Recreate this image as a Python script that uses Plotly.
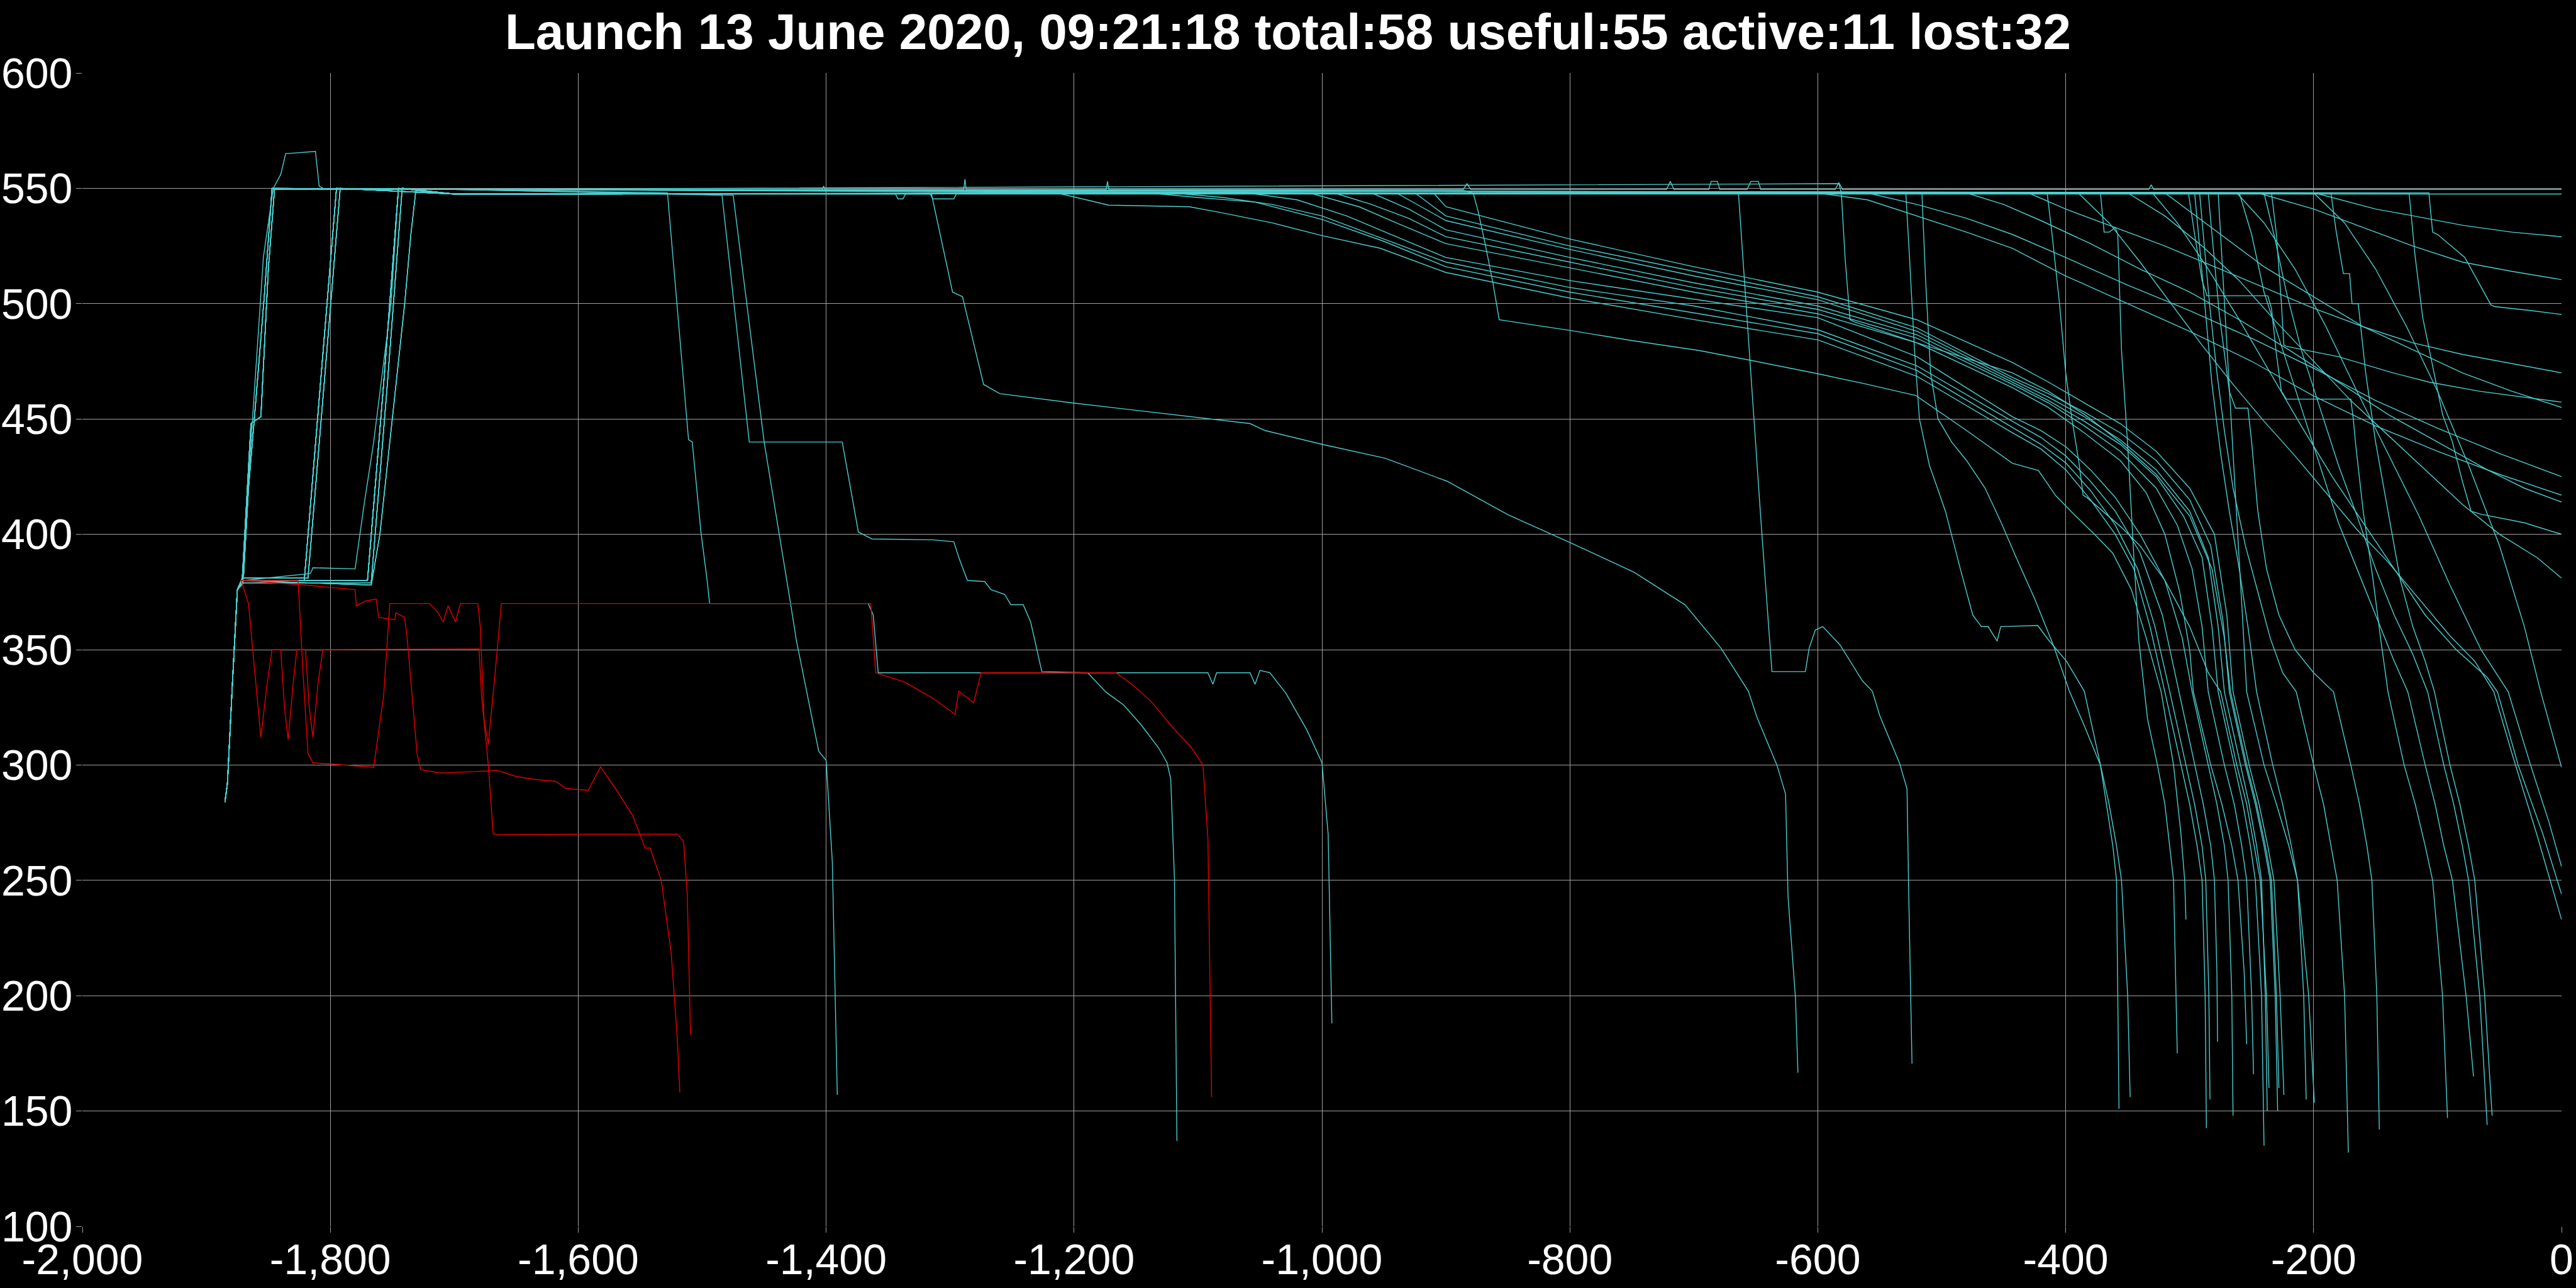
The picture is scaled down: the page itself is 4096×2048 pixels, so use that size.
import plotly.graph_objects as go

# ---------------- text / ticks ----------------
TITLE = "Launch 13 June 2020, 09:21:18 total:58 useful:55 active:11 lost:32"
X_TICKS = [-2000, -1800, -1600, -1400, -1200, -1000, -800, -600, -400, -200, 0]
X_TICK_LABELS = ["-2,000", "-1,800", "-1,600", "-1,400", "-1,200", "-1,000", "-800", "-600", "-400", "-200", "0"]
Y_TICKS = [100, 150, 200, 250, 300, 350, 400, 450, 500, 550, 600]
Y_TICK_LABELS = ["100", "150", "200", "250", "300", "350", "400", "450", "500", "550", "600"]

# ---------------- launch / climb phase (time, value) ----------------
START = [(-1885, 284), (-1883, 292), (-1879, 335), (-1875, 376)]
CLIMB_G1A = [(-1871, 381), (-1864, 448), (-1856, 451), (-1850, 515), (-1845, 549.5)]
CLIMB_G1B = [(-1870, 382), (-1866, 420), (-1861, 452), (-1853, 505), (-1847, 550)]
CLIMB_G1C = [(-1871, 381), (-1864, 440), (-1854, 520), (-1846, 550), (-1840, 556), (-1836, 565),
             (-1812, 566), (-1809, 551), (-1806, 550)]
CLIMB_G2 = [(-1870, 380), (-1821, 380), (-1808, 465), (-1795, 550)]
CLIMB_G2V = [(-1870, 381), (-1818, 381), (-1805, 465), (-1792, 550)]
CLIMB_G2B = [(-1870, 380), (-1816, 383), (-1814, 385.5), (-1780, 385), (-1773, 412), (-1765, 440),
             (-1758, 470), (-1751, 500), (-1745, 550)]
CLIMB_G3 = [(-1870, 380), (-1770, 380), (-1757, 465), (-1745, 550)]
CLIMB_G3V = [(-1870, 379), (-1767, 379), (-1754, 465), (-1742, 550)]
CLIMB_G3B = [(-1870, 380), (-1767, 378), (-1760, 400), (-1752, 440), (-1745, 475), (-1740, 500),
             (-1735, 530), (-1731, 549)]
LEVEL_BREAK_X = -1700

# ---------------- cyan tracks: (climb group, cruise level, later points) ----------------
CYAN_EARLY = [
    ("G1A", 549.5, [(-1528, 548), (-1520, 497), (-1511, 441), (-1508, 440), (-1501, 401), (-1496, 380),
                    (-1494, 370), (-1366, 370), (-1362, 365), (-1358, 340), (-1092, 340), (-1088, 335),
                    (-1085, 340), (-1058, 340), (-1054, 335), (-1050, 341), (-1042, 340), (-1029, 331),
                    (-1012, 315), (-1000, 301), (-995, 270), (-992, 188)]),
    ("G1C", 549.5, [(-1484, 547), (-1469, 473), (-1462, 440), (-1387, 440), (-1374, 401), (-1363, 398),
                    (-1314, 397.6), (-1297, 396.8), (-1293, 390), (-1286, 380), (-1272, 379.5),
                    (-1267, 376), (-1256, 374), (-1251, 369.5), (-1241, 369.5), (-1235, 362),
                    (-1230, 350.5), (-1226, 340.5), (-1189, 340), (-1174, 331.5), (-1160, 326),
                    (-1146, 317.5), (-1132, 307.6), (-1125, 301), (-1122, 294), (-1119, 251), (-1117, 137)]),
    ("G1B", 549.5, [(-1475, 547), (-1450, 440), (-1429, 371), (-1424, 354), (-1406, 306), (-1400, 302),
                    (-1395, 258), (-1391, 157)]),
    ("G2", 547.5, [(-1315, 547.5), (-1298, 505), (-1290, 503), (-1273, 465), (-1260, 461), (-1202, 457),
                   (-1138, 453), (-1058, 448), (-1046, 445), (-1000, 439), (-949, 433), (-899, 423),
                   (-850, 408.5), (-798, 396), (-748, 383.5), (-707, 369.4), (-678, 350.6), (-656, 332),
                   (-649, 320.6), (-633, 300), (-626, 287.4), (-624, 243), (-618, 199), (-616, 166.6)]),
    ("G3", 547.5, [(-664, 547.8), (-658, 501), (-646, 407), (-637, 340.5), (-610, 340.5), (-607, 350.6),
                   (-602, 358.5), (-596, 360), (-582, 352), (-564, 336.5), (-556, 332), (-550, 321.4),
                   (-534, 300.7), (-528, 289.6), (-526.6, 243), (-524, 170.6)]),
]

CYAN_BUNDLE = [
    ("G2V", 547.5, [(-1214, 548), (-1190, 545), (-1172, 542.7), (-1107, 542), (-1084, 539.7), (-1040, 535),
                    (-1000, 529.5), (-953, 524), (-900, 513.5), (-800, 502.4), (-700, 493.1), (-600, 484.3),
                    (-520, 468.5), (-443, 444), (-420, 437), (-400, 428), (-380, 415), (-360, 400),
                    (-345, 385), (-332, 360), (-320, 331.7), (-307, 300), (-300, 283), (-294, 265),
                    (-290, 250), (-287.5, 200), (-286.5, 142.5)]),
    ("G3", 547.5, [(-1140, 548), (-1100, 546), (-1054, 544), (-1000, 536.5), (-950, 527), (-900, 516),
                   (-800, 505), (-700, 496), (-600, 487), (-520, 471), (-443, 446.4), (-420, 439),
                   (-400, 431), (-380, 419), (-360, 404), (-342, 385), (-328, 360), (-316, 331.7),
                   (-303, 300), (-296, 283), (-290, 265), (-287, 250), (-284.5, 200), (-283.6, 155)]),
    ("G1A", 549.5, [(-1120, 548), (-1080, 546), (-1040, 543), (-1000, 538), (-950, 528), (-900, 518),
                    (-800, 507), (-700, 499), (-600, 488.7), (-520, 473), (-443, 449), (-420, 442),
                    (-400, 434), (-380, 423), (-360, 410), (-340, 392), (-322, 365), (-308.6, 331.7),
                    (-296, 300), (-289, 283), (-283, 265), (-280, 250), (-278, 210), (-277.5, 180)]),
    ("G3V", 547.5, [(-1060, 548), (-1020, 545), (-980, 538), (-940, 529), (-900, 520), (-800, 510),
                    (-700, 502), (-600, 493.9), (-520, 477), (-443, 451), (-420, 445), (-400, 438),
                    (-380, 428), (-360, 416), (-340, 400), (-320, 380), (-306, 355), (-298, 331.7),
                    (-285, 300), (-278, 283), (-272, 265), (-269, 250), (-266, 200), (-265, 148)]),
    ("G2", 547.5, [(-1010, 548), (-970, 542), (-940, 535), (-900, 526), (-800, 515.5), (-700, 505),
                   (-600, 495.6), (-520, 483), (-443, 463.6), (-414, 455), (-385, 444), (-356, 432),
                   (-335, 418), (-320, 400), (-308, 375), (-300, 350), (-297, 331.7), (-283, 300),
                   (-274, 283), (-266, 265), (-261, 250), (-256, 210), (-254, 179)]),
    ("G1B", 549.5, [(-990, 548), (-960, 543), (-930, 537), (-900, 529), (-800, 518), (-700, 507),
                    (-600, 497.5), (-520, 485), (-443, 465), (-414, 457), (-385, 447), (-356, 436),
                    (-327, 420), (-310, 404), (-298, 385), (-290, 360), (-285, 331.7), (-272, 300),
                    (-264, 283), (-258, 265), (-254, 250), (-250, 200), (-248.5, 166)]),
    ("G3", 547.5, [(-960, 548), (-930, 541), (-900, 532), (-800, 520), (-700, 509), (-600, 499),
                   (-520, 486.5), (-443, 466), (-414, 458), (-385, 449), (-356, 439), (-327, 425),
                   (-305, 408), (-290, 390), (-282, 360), (-277, 331.7), (-264, 300), (-257, 283),
                   (-251, 265), (-247, 250), (-242, 200), (-240, 135)]),
    ("G2V", 547.5, [(-940, 548), (-920, 542), (-900, 536), (-800, 523.5), (-700, 512), (-600, 501.7),
                    (-520, 488), (-443, 467), (-414, 459.5), (-385, 451), (-356, 441), (-327, 428),
                    (-300, 410), (-285, 390), (-277, 360), (-272, 331.7), (-259, 300), (-252, 283),
                    (-246, 265), (-242, 250), (-239, 200), (-237.4, 150)]),
    ("G3B", 547.5, [(-925, 548), (-910, 542), (-900, 538), (-800, 525), (-700, 514), (-600, 503),
                    (-520, 489.5), (-443, 468), (-414, 461), (-385, 453), (-356, 444), (-327, 432),
                    (-300, 415), (-283, 395), (-273, 362), (-268, 331.7), (-255, 300), (-247, 283),
                    (-240, 265), (-235, 250), (-231, 200), (-229, 150)]),
    ("G1A", 549.5, [(-910, 548), (-900, 542), (-800, 528), (-700, 516), (-600, 505), (-520, 493),
                    (-443, 474.5), (-414, 466), (-385, 457), (-356, 448), (-327, 436), (-300, 420),
                    (-280, 400), (-270, 365), (-265, 331.7), (-252, 300), (-244, 283), (-237, 265),
                    (-232, 250), (-227, 200), (-224, 157)]),
    ("G2", 549.5, [(-885, 549), (-878, 548), (-874, 540), (-868, 525), (-862, 508.7), (-857, 493),
                   (-800, 488.4), (-750, 484), (-696, 479.7), (-650, 475), (-600, 469.6), (-560, 465),
                   (-521, 460.2), (-480, 445), (-443, 430.8), (-422, 427.7), (-408, 416.7), (-394, 409),
                   (-376, 399.6), (-362, 391.8), (-347, 376), (-335, 355), (-323, 331.7), (-313, 300),
                   (-307, 270), (-304, 250), (-303, 233)]),
]

CYAN_STEEP = [
    ("G3", 547.5, [(-301, 548), (-296, 530), (-290, 510), (-286, 503.4), (-237, 503.4), (-234, 498),
                   (-230, 478), (-226, 462), (-222, 458.6), (-170, 458.6), (-168, 450), (-166, 438.6),
                   (-160, 410), (-152, 380), (-146, 355), (-140, 331.7), (-127, 300), (-118, 283),
                   (-110, 265), (-104, 250), (-96, 200), (-92, 147)]),
    ("G3V", 547.5, [(-292, 548), (-289, 530), (-284, 500), (-278, 470), (-272, 445), (-265, 420),
                    (-255, 395), (-245, 375), (-235, 355), (-225, 340), (-214, 331.7), (-200, 300),
                    (-192, 283), (-186, 265), (-181, 250), (-175, 200), (-172, 132)]),
    ("G2", 547.5, [(-285, 548), (-282, 530), (-276, 495), (-268, 462), (-263, 454.7), (-253, 454.7),
                   (-250, 440), (-245, 410), (-238, 385), (-228, 365), (-215, 350), (-200, 340),
                   (-184, 331.7), (-170, 300), (-163, 283), (-157, 265), (-153, 250), (-149, 200), (-147, 142)]),
    ("G1B", 549.5, [(-277, 548), (-273, 510), (-269, 470), (-265, 435), (-262, 407), (-258, 370),
                    (-254, 331.7), (-240, 300), (-230, 283), (-220, 265), (-213, 250), (-208, 200), (-206, 155)]),
    ("G3", 547.5, [(-296, 548), (-292, 525), (-287, 495), (-282, 465), (-275, 435), (-268, 410),
                   (-260, 385), (-253, 360), (-246, 331.7), (-233, 300), (-225, 283), (-218, 265),
                   (-213, 250), (-204, 200), (-199.4, 153.6)]),
    ("G2V", 547.5, [(-415, 548), (-411, 530), (-405, 500), (-400, 470), (-395, 450), (-389, 430),
                    (-386, 417), (-383, 416), (-370, 410), (-355, 403), (-340, 395), (-320, 380),
                    (-300, 360), (-285, 340), (-275, 331.7), (-262, 300), (-254, 283), (-248, 265),
                    (-243, 250), (-238, 200), (-236, 160)]),
    ("G3V", 547.5, [(-372, 548), (-369, 531), (-365, 531), (-360, 533), (-358, 530), (-355, 480),
                    (-350, 438.6), (-345, 390), (-341, 354), (-334, 320), (-326, 300), (-320, 283),
                    (-316, 265), (-313, 250), (-311, 200), (-310, 175)]),
    ("G1A", 549.5, [(-583, 552), (-581, 548), (-578, 520), (-574, 493), (-570, 492), (-520, 483),
                    (-443, 470), (-414, 462), (-385, 452), (-356, 440), (-327, 426), (-300, 408),
                    (-282, 385), (-272, 355), (-267, 331.7), (-254, 300), (-246, 283), (-239, 265),
                    (-234, 250), (-230, 200), (-228, 160)]),
    ("G2", 547.5, [(-529, 548), (-526, 520), (-522, 480), (-518, 450), (-510, 430), (-497, 410),
                   (-485, 385), (-475, 365), (-468, 360), (-462.6, 360), (-458, 356), (-455.3, 353.7),
                   (-452.4, 360), (-422.6, 360.5), (-414, 354.3), (-399.4, 345), (-385, 332), (-372, 300),
                   (-365, 283), (-359, 265), (-355, 250), (-350, 200), (-348, 156)]),
    ("G3", 547.5, [(-516, 548), (-513, 510), (-509, 470), (-503, 450), (-492, 440), (-480, 432),
                   (-465, 420), (-452, 405), (-440, 390), (-425, 372), (-410, 352), (-397, 332),
                   (-385, 317), (-372, 300), (-367, 283), (-362, 265), (-359, 250), (-358, 200), (-357, 151)]),
    ("G3B", 547.5, [(-260, 548), (-250, 530), (-240, 505), (-225, 480), (-210, 455), (-195, 430),
                    (-180, 405), (-165, 385), (-150, 365), (-135, 345), (-124, 331.7), (-110, 300),
                    (-102, 283), (-95, 265), (-88, 250), (-77, 200), (-71, 165)]),
    ("G1B", 549.5, [(-240, 548), (-232, 530), (-222, 505), (-210, 480), (-195, 455), (-180, 430),
                    (-165, 408), (-150, 385), (-135, 365), (-120, 348), (-108, 331.7), (-95, 300),
                    (-87, 283), (-80, 265), (-75, 250), (-66, 200), (-60, 144)]),
    ("G2V", 547.5, [(-186, 548), (-182, 532), (-176, 513), (-171, 513), (-169, 500), (-164, 500),
                    (-158, 470), (-150, 440), (-140, 410), (-130, 380), (-120, 360), (-110, 345),
                    (-102.5, 331.7), (-90, 300), (-82, 283), (-75, 265), (-70, 250), (-62, 200), (-56, 148)]),
]

CYAN_UPPER = [
    ("G3", 547.5, [(-199, 548), (-150, 541), (-124, 538.5), (-80, 534), (-40, 531), (0, 529)]),
    ("G2", 547.5, [(-245, 548), (-200, 541), (-160, 533), (-120, 525), (-80, 518), (-40, 514), (0, 510.4)]),
    ("G3V", 547.5, [(-107, 548), (-104, 531), (-100, 530), (-78, 520), (-57, 499.5), (-54, 498.7),
                    (-25, 497), (0, 495.3)]),
    ("G1A", 549.5, [(-123, 548), (-118, 520), (-112, 494), (-96, 452), (-88, 440), (-80, 423), (-73, 410),
                    (-65, 408.7), (-30, 405), (0, 400)]),
    ("G2V", 547.5, [(-430, 548), (-400, 541), (-360, 533), (-320, 525), (-280, 516), (-240, 507),
                    (-200, 498), (-160, 490), (-120, 483), (-80, 478), (-40, 474), (0, 470)]),
    ("G3", 547.5, [(-234, 548), (-230, 530), (-226, 500), (-224, 482), (-222, 481.5), (-180, 477),
                   (-136, 470), (-107, 466), (-66, 462), (0, 457.3)]),
    ("G1B", 549.5, [(-320, 548), (-300, 540), (-270, 528), (-240, 516), (-200, 503), (-160, 490),
                    (-120, 480), (-80, 470), (-40, 462), (0, 455)]),
    ("G2", 547.5, [(-560, 548), (-520, 543), (-480, 537), (-443, 530), (-400, 520), (-350, 508),
                   (-300, 497), (-250, 485), (-200, 472), (-150, 458), (-100, 446), (-50, 435), (0, 425)]),
    ("G3V", 547.5, [(-600, 548), (-560, 545), (-520, 538), (-480, 531), (-443, 524), (-400, 512),
                    (-350, 500), (-300, 488), (-250, 475), (-200, 460), (-150, 447), (-100, 436),
                    (-50, 426), (0, 417)]),
    ("G3B", 547.5, [(-480, 548), (-450, 543), (-420, 536), (-380, 526), (-340, 515), (-300, 505),
                    (-260, 493), (-220, 480), (-180, 466), (-140, 452), (-100, 440), (-60, 428),
                    (-30, 420), (0, 414)]),
    ("G2B", 547.5, [(-350, 548), (-320, 538), (-290, 525), (-260, 510), (-230, 492), (-200, 475),
                    (-170, 458), (-140, 443), (-110, 428), (-80, 413), (-50, 400), (-20, 390), (0, 381)]),
    ("G1A", 549.5, [(-200, 548), (-175, 535), (-150, 515), (-125, 490), (-100, 462), (-75, 430),
                    (-50, 395), (-30, 360), (-16.8, 331.7), (0, 299)]),
    ("G2", 547.5, [(-262, 548), (-240, 535), (-215, 515), (-190, 490), (-165, 462), (-140, 435),
                   (-115, 408), (-90, 378), (-65, 350), (-43, 331.7), (-25, 300), (-10, 275), (0, 256)]),
    ("G3", 547.5, [(-330, 548), (-310, 535), (-285, 515), (-260, 493), (-235, 470), (-210, 447),
                   (-185, 425), (-160, 405), (-135, 385), (-110, 365), (-85, 350), (-60, 338),
                   (-51.7, 331.7), (-35, 300), (-15, 270), (0, 244)]),
    ("G1B", 549.5, [(-390, 548), (-365, 535), (-340, 518), (-315, 500), (-290, 482), (-265, 465),
                    (-240, 449), (-215, 434), (-190, 418), (-165, 402), (-140, 388), (-115, 372),
                    (-90, 356), (-70, 345), (-54.6, 331.7), (-40, 305), (-20, 270), (0, 233)]),
    ("G1A", 549.5, [(-1403, 549.5), (-1402, 551), (-1401, 549.5), (-1289, 549.5), (-1288, 554),
                    (-1287, 549.5), (-1174, 549.5), (-1173, 553), (-1172, 549.5), (-886, 549.5),
                    (-883, 552), (-880, 549.5), (-722, 549.5), (-719, 553), (-716, 549.5),
                    (-688, 549.5), (-686, 553), (-681, 553), (-679, 549.5), (-657, 549.5),
                    (-654, 553), (-648, 553), (-646, 549.5), (-586, 549.5), (-583, 552.5),
                    (-580, 549.5), (-333, 549.5), (-331, 551.5), (-329, 549.5), (0, 549.5)]),
    ("G3", 547.5, [(-1344, 547.5), (-1342, 545.4), (-1338, 545.4), (-1336, 547.5), (-1316, 547.5),
                   (-1314, 545.4), (-1297, 545.4), (-1295, 547.5), (0, 547.5)]),
]

# ---------------- red tracks ----------------
RED_TRACKS = [
    [(-1872, 380), (-1820, 378), (-1780, 376), (-1779, 369), (-1772, 371), (-1763, 372), (-1761, 364),
     (-1748, 363), (-1747, 366), (-1740, 364), (-1738, 355), (-1734, 330), (-1730, 305), (-1727, 298),
     (-1711, 296.5), (-1690, 297), (-1665, 297.6), (-1650, 295), (-1634, 293.7), (-1618, 292.9),
     (-1610, 289.8), (-1592, 289), (-1582, 299.2), (-1569, 289), (-1556, 278), (-1546, 264),
     (-1542, 264), (-1533, 250), (-1525, 218.5), (-1520, 181), (-1518, 158)],
    [(-1872, 380), (-1866, 370), (-1860, 335), (-1856, 312), (-1851, 335), (-1847, 350), (-1840, 350),
     (-1837, 325), (-1834, 311), (-1830, 335), (-1827, 350), (-1820, 350), (-1817, 325), (-1814, 312),
     (-1810, 335), (-1806, 350), (-1680, 350.3), (-1678, 330), (-1672.5, 300), (-1668.6, 270.2),
     (-1666, 269.7), (-1600, 270), (-1520, 270), (-1515, 267), (-1512, 243.6), (-1509.4, 183)],
    [(-1872, 380), (-1826, 380), (-1822, 340), (-1818, 305), (-1814, 301), (-1790, 300), (-1765, 299),
     (-1757, 330), (-1752, 370), (-1720, 370), (-1713, 366), (-1709, 362), (-1705, 369), (-1699, 362),
     (-1695, 370), (-1681, 370), (-1679, 360), (-1676, 320), (-1672.5, 309), (-1667, 340), (-1662, 370),
     (-1364, 370), (-1360, 340), (-1337, 336), (-1314, 329), (-1296, 322), (-1293, 332), (-1281, 327),
     (-1275, 340), (-1166, 340), (-1151, 334), (-1137, 327), (-1120, 316), (-1106, 308), (-1096, 300),
     (-1092, 268), (-1089, 156)],
]

CYAN = "#4ccfcf"
RED = "#e80000"
GRID = "#a0a0a0"
FONT = "Liberation Sans, Arial, Helvetica, sans-serif"

CLIMBS = {"G1A": CLIMB_G1A, "G1B": CLIMB_G1B, "G1C": CLIMB_G1C, "G2": CLIMB_G2, "G2V": CLIMB_G2V,
          "G2B": CLIMB_G2B, "G3": CLIMB_G3, "G3V": CLIMB_G3V, "G3B": CLIMB_G3B}

fig = go.Figure()


def add_line(points, color):
    fig.add_trace(go.Scatter(x=[p[0] for p in points], y=[p[1] for p in points], mode="lines",
                             line=dict(color=color, width=1.4), hoverinfo="skip"))


for group_list in (CYAN_EARLY, CYAN_BUNDLE, CYAN_STEEP, CYAN_UPPER):
    for group, level, pts in group_list:
        full = START + CLIMBS[group] + [(LEVEL_BREAK_X, level)] + pts
        add_line(full, CYAN)

for pts in RED_TRACKS:
    add_line(pts, RED)

axis_common = dict(showgrid=True, gridcolor=GRID, gridwidth=1, zeroline=False, showline=False,
                   ticks="outside", ticklen=9, tickcolor=GRID, tickwidth=1, automargin=False,
                   tickfont=dict(family=FONT, size=68, color="white"), tickmode="array")

fig.update_layout(
    width=4096, height=2048,
    paper_bgcolor="black", plot_bgcolor="black",
    margin=dict(l=131, r=23, t=116, b=98),
    showlegend=False,
    title=dict(text="<b>" + TITLE + "</b>", x=0.5, xanchor="center", xref="container",
               y=1 - 50 / 2048, yanchor="middle", yref="container",
               font=dict(family=FONT, size=80, color="white")),
    xaxis=dict(range=[-2000, 0], tickvals=X_TICKS, ticktext=X_TICK_LABELS, ticklabelstandoff=-16,
               **axis_common),
    yaxis=dict(range=[100, 600], tickvals=Y_TICKS, ticktext=Y_TICK_LABELS, ticklabelstandoff=-8,
               **axis_common),
)

fig.write_html("out.html", config={"displayModeBar": False},
               post_script="document.body.style.margin='0';")
